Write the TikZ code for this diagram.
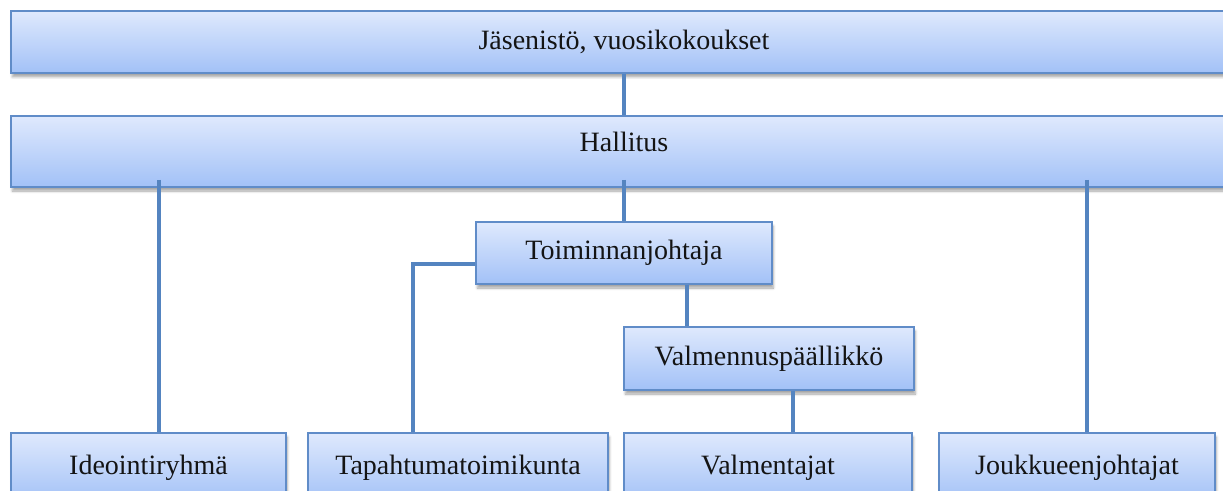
\documentclass[tikz,border=0pt]{standalone}
\usepackage{fontspec}
\setmainfont{Liberation Serif}
\usetikzlibrary{shadows.blur,calc}
\definecolor{boxtop}{RGB}{223,233,253}
\definecolor{boxbot}{RGB}{162,193,247}
\definecolor{boxline}{RGB}{96,140,200}
\definecolor{connline}{RGB}{84,132,192}
\definecolor{txt}{RGB}{20,20,20}
\begin{document}
\begin{tikzpicture}[x=0.75pt,y=-0.75pt,
  box/.style={draw=boxline, line width=1.5pt, top color=boxtop, bottom color=boxbot,
    inner sep=0pt, anchor=north west, text=txt,
    font=\fontsize{21}{25}\selectfont,
    blur shadow={shadow xshift=1pt, shadow yshift=-3pt, shadow opacity=35, shadow blur steps=6}},
  conn/.style={draw=connline, line width=3pt}]
\useasboundingbox (0,0) rectangle (1223,491);
\clip (0,0) rectangle (1223,491);
\node[box, minimum width=919.5pt, minimum height=46.5pt] (top) at (10,10) {Jäsenistö, vuosikokoukset};
\node[box, minimum width=919.5pt, minimum height=53.25pt, text depth=14pt] (hall) at (10,115) {Hallitus};
\node[box, minimum width=222pt, minimum height=46.5pt] (toim) at (475,221) {Toiminnanjohtaja};
\node[box, minimum width=217.5pt, minimum height=47.25pt] (valm) at (623,326) {Valmennuspäällikkö};
\node[box, minimum width=206.25pt, minimum height=52.5pt] (ideo) at (10,432) {Ideointiryhmä};
\node[box, minimum width=225pt, minimum height=52.5pt] (tapa) at (307,432) {Tapahtumatoimikunta};
\node[box, minimum width=216pt, minimum height=52.5pt] (valt) at (623,432) {Valmentajat};
\node[box, minimum width=207pt, minimum height=52.5pt] (jouk) at (938,432) {Joukkueenjohtajat};
\draw[conn] (top.south) -- (hall.north);
\draw[conn] ($(hall.south)+(0,-8)$) -- (toim.north);
\draw[conn] ($(ideo.north |- hall.south)+(10.5,-8)$) -- ($(ideo.north)+(10.5,0)$);
\draw[conn] ($(jouk.north |- hall.south)+(10,-8)$) -- ($(jouk.north)+(10,0)$);
\draw[conn, line join=miter] ($(toim.west)+(0,11)$) -| ($(tapa.north)+(-45,0)$);
\draw[conn] ($(toim.south)+(63,0)$) -- ($(toim.south |- valm.north)+(63,0)$);
\draw[conn] ($(valm.south)+(24,0)$) -- ($(valm.south |- valt.north)+(24,0)$);
\end{tikzpicture}
\end{document}
